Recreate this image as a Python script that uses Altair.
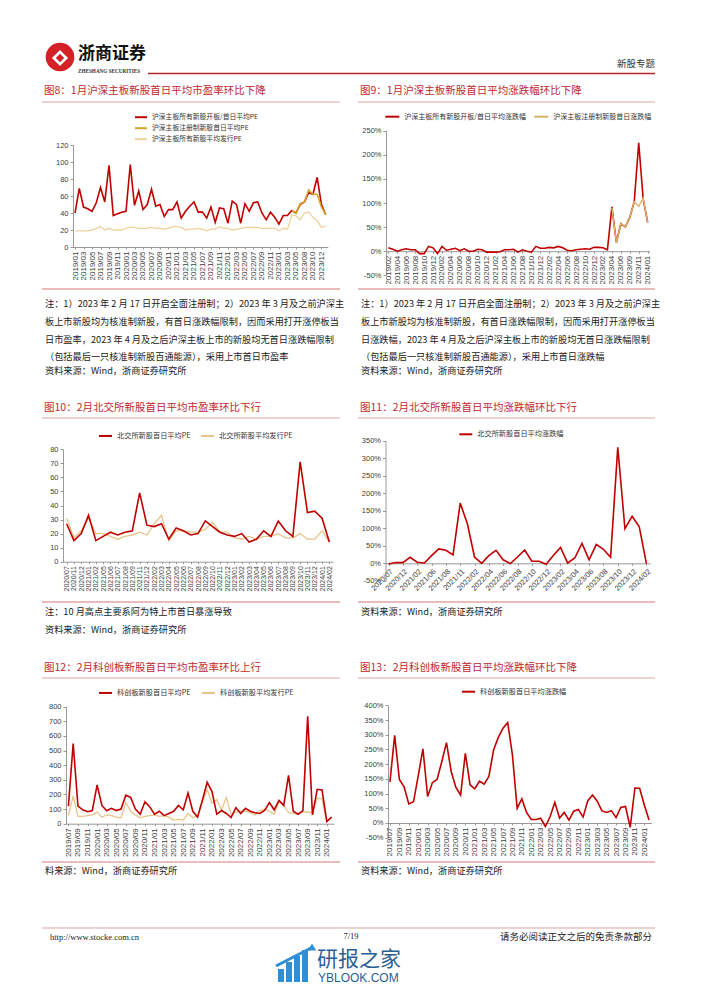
import altair as alt
import pandas as pd

W, H = 686, 975
M = 8


def px(v):
    return v - M


def py(v):
    return v - M


FONT_CJK = "Noto Sans CJK SC"
FONT_NUM = "Liberation Sans"
FONT_SERIF = "Liberation Serif"


def months(start, end, skip=()):
    y, m = map(int, start.split("/"))
    ye, me = map(int, end.split("/"))
    out = []
    while (y, m) <= (ye, me):
        s = f"{y}/{m:02d}"
        if s not in skip:
            out.append(s)
        m += 1
        if m > 12:
            m = 1
            y += 1
    return out


# ---------------- data ----------------
# Fig 8
cats8 = months("2019/01", "2024/01", skip=["2023/07"])
red8 = [40, 69, 47, 45, 42, 52, 70, 53, 96, 37, 39, 41,
        42, 97, 49, 66, 44, 50, 68, 48, 50, 36, 44, 44,
        53, 34, 42, 48, 53, 41, 41, 34, 47, 29, 46, 45,
        28, 54, 50, 28, 51, 42, 52, 53, 40, 32, 41, 35,
        27, 37, 37, 43, 40, 50, 53, 64, 62, 82, 50,
        38]
gold8 = [None] * 51 + [43, 40, 51, 53, 67, 62, 62, 47, 38]
tan8 = [19, 19, 19, 19, 20, 22, 24, 20, 22, 20, 20, 20,
        22, 23, 23, 22, 22, 22, 23, 22, 22, 21, 22, 24,
        24, 23, 20, 21, 21, 22, 21, 19, 21, 21, 24, 22,
        22, 20, 21, 22, 23, 23, 23, 23, 22, 22, 22, 22,
        19, 22, 21, 37, 37, 32, 40, 41, 35, 31, 23,
        25]
names8 = ["沪深主板所有新股开板/首日平均PE", "沪深主板注册制新股首日平均PE", "沪深主板所有新股平均发行PE"]

# Fig 9
cats9 = months("2019/02", "2024/01", skip=["2023/07"])
red9 = [7, 4, 0, 3, 5, 3, 3, -5, -5, 10, 7,
        -5, 10, 2, 4, 6, 1, 5, 0, 0, 4, 3, -2,
        -2, -2, -1, 3, 3, 4, -2, 3, 0, -2, 10, 6,
        6, 8, 7, 10, 7, 2, 1, 3, 4, 5, 4, 8,
        8, 7, 3, 92, 18, 57, 50, 70, 103, 225, 108,
        60]
gold9 = [None] * 50 + [90, 18, 57, 50, 70, 103, 93, 110, 60]
names9 = ["沪深主板所有新股开板/首日平均涨跌幅", "沪深主板注册制新股首日涨跌幅"]

# Fig 10 / 11
cats10 = ["2020/07", "2020/11", "2020/12", "2021/01", "2021/02", "2021/05",
          "2021/06", "2021/07", "2021/08", "2021/09", "2021/11", "2021/12"] + months("2022/02", "2024/02")
red10 = [27, 15, 20, 33, 15, 18, 21, 19, 21, 22, 49, 26, 25, 27, 16, 24, 22, 19, 20,
         29, 25, 21, 19, 18, 20, 14, 16, 22, 18, 29, 22, 18, 71, 35, 36, 31, 14]
tan10 = [31, 17, 22, 31, 20, 20, 18, 16, 18, 19, 21, 19, 27, 33, 15, 22, 22, 21, 21,
         23, 28, 21, 21, 17, 16, 18, 16, 18, 18, 20, 17, 17, 20, 16, 16, 22, 14]
names10 = ["北交所新股首日平均PE", "北交所新股平均发行PE"]
red11 = [-2, 2, 2, 17, 3, 1, 22, 41, 37, 24, 172, 113, 18, 0, 22, 37, 10, -1, 18,
         38, 6, 6, -3, 22, 45, 1, 15, 57, 10, 54, 40, 17, 331, 99, 134, 104, -1]
names11 = ["北交所新股首日平均涨跌幅"]

# Fig 12 / 13
cats12 = months("2019/07", "2024/02")
red12 = [120, 548, 120, 95, 82, 90, 265, 125, 88, 105, 90, 100, 195, 180, 100, 65,
         150, 115, 65, 85, 55, 70, 85, 125, 95, 210, 85, 45, 160, 283, 220, 65,
         90, 70, 42, 110, 70, 105, 85, 75, 70, 90, 145, 95, 160, 125, 330, 85,
         65, 90, 735, 60, 235, 230, 15, 45]
tan12 = [55, 190, 50, 50, 55, 60, 80, 45, 60, 55, 45, 40, 145, 85, 60, 40,
         50, 55, 60, 50, 55, 45, 25, 30, 25, 70, 40, 55, 150, 235, 140, 165,
         95, 180, 60, 80, 85, 85, 75, 60, 90, 100, 85, 65, 150, 125, 75, 70,
         65, 80, 80, 75, 175, 170, 10, 45]
names12 = ["科创板新股首日平均PE", "科创板新股平均发行PE"]
red13 = [140, 298, 148, 123, 65, 72, 160, 252, 90, 137, 148, 208, 273, 175, 121, 95,
         237, 130, 116, 142, 132, 158, 248, 291, 322, 341, 231, 50, 82, 36, 12, 12,
         16, -12, 22, 70, 17, 36, 10, 40, 46, 20, 76, 95, 74, 41, 36, 42,
         18, 53, 56, -15, 119, 118, 61, 10]
names13 = ["科创板新股首日平均涨跌幅"]

# ---------------- styles ----------------
RED = "#C00000"
GOLD8 = "#D2A52A"
TAN8 = "#EDD29E"
GOLD9 = "#D9B468"
TAN = "#E6C48A"
TITLE_C = "#C0282E"
PINK = "#E3A4A4"
AX = "#808080"
LAB = "#404040"


def legend(lx, ly, direction="horizontal", columns=2, size=196, rowpad=0, colpad=12, fs=7.2):
    return dict(orient="none", legendX=px(lx), legendY=py(ly), direction=direction, columns=columns,
                title=None, symbolType="stroke", symbolSize=size, symbolStrokeWidth=2,
                labelFont=FONT_CJK, labelFontSize=fs, labelColor="#333333", labelOffset=4,
                rowPadding=rowpad, columnPadding=colpad, padding=0, labelLimit=300)


def panel(cats, series, names, colors, widths, order, xr, ydom, yr, yvals, pct,
          x_axis_y, y_axis_x, xlab, xangle, xsize, leg):
    layers = []
    for i in order:
        df = pd.DataFrame({"cat": cats, "val": series[i]}).dropna()
        df["series"] = names[i]
        xaxis = alt.Axis(orient="bottom", offset=py(x_axis_y) - H, values=xlab, labelAngle=xangle,
                         labelFontSize=xsize, labelFont=FONT_NUM, labelColor=LAB, labelPadding=2,
                         labelOverlap=False, tickSize=2, tickColor=AX, tickWidth=0.8,
                         domainColor=AX, domainWidth=0.8, grid=False, title=None)
        yargs = dict(orient="left", offset=-px(y_axis_x), values=yvals, labelFontSize=7.5,
                     labelFont=FONT_NUM, labelColor=LAB, labelPadding=2, tickSize=3, tickColor=AX,
                     tickWidth=0.8, domainColor=AX, domainWidth=0.8, grid=False, title=None)
        if pct:
            yargs["labelExpr"] = "datum.value + '%'"
        layers.append(
            alt.Chart(df).mark_line(strokeWidth=widths[i]).encode(
                x=alt.X("cat:O", scale=alt.Scale(domain=cats, range=[px(xr[0]), px(xr[1])], padding=0.5),
                        axis=xaxis),
                y=alt.Y("val:Q", scale=alt.Scale(domain=ydom, range=[py(yr[0]), py(yr[1])], nice=False,
                                                 zero=False), axis=alt.Axis(**yargs)),
                color=alt.Color("series:N", scale=alt.Scale(domain=names, range=colors),
                                legend=alt.Legend(**leg)),
            )
        )
    return alt.layer(*layers)


def txt(s, x, y, size, color="#222222", font=FONT_CJK, align="left", weight="normal"):
    return alt.Chart(pd.DataFrame({"t": [s]})).mark_text(
        align=align, baseline="middle", fontSize=size, font=font, color=color, fontWeight=weight
    ).encode(x=alt.value(px(x)), y=alt.value(py(y)), text="t:N")


def hline(x1, x2, y, color, w=1.0):
    return alt.Chart(pd.DataFrame({"a": [0]})).mark_rule(color=color, strokeWidth=w).encode(
        x=alt.value(px(x1)), x2=alt.value(px(x2)), y=alt.value(py(y)))


def seg(x1, y1, x2, y2, color, w):
    return alt.Chart(pd.DataFrame({"a": [0]})).mark_rule(color=color, strokeWidth=w).encode(
        x=alt.value(px(x1)), x2=alt.value(px(x2)), y=alt.value(py(y1)), y2=alt.value(py(y2)))


def dot(x, y, size, color, shape="circle"):
    return alt.Chart(pd.DataFrame({"a": [0]})).mark_point(
        shape=shape, filled=True, color=color, size=size, opacity=1).encode(
        x=alt.value(px(x)), y=alt.value(py(y)))


items = []

# ---------------- header ----------------
items += [
    dot(60, 57, 820, "#D42027"),
    dot(60, 58, 260, "white", "diamond"),
    dot(60, 58, 70, "#D42027", "diamond"),
    txt("浙商证券", 78, 54, 17, "#111111", weight="bold"),
    txt("ZHESHANG SECURITIES", 78, 70.5, 5.2, "#333333", font=FONT_SERIF, weight="bold"),
    hline(148, 655, 73.5, "#B3262C", 1.5),
    txt("新股专题", 655, 63.5, 9.5, "#333333", align="right"),
]

# ---------------- titles ----------------
titles = [
    ("图8：1月沪深主板新股首日平均市盈率环比下降", 44, 91),
    ("图9：1月沪深主板新股首日平均涨跌幅环比下降", 360, 91),
    ("图10：2月北交所新股首日平均市盈率环比下行", 44, 407.5),
    ("图11：2月北交所新股首日平均涨跌幅环比下行", 360, 407.5),
    ("图12：2月科创板新股首日平均市盈率环比上行", 44, 667.5),
    ("图13：2月科创板新股首日平均涨跌幅环比下降", 360, 667.5),
]
for s, x, y in titles:
    items.append(txt(s, x, y, 10.5, TITLE_C))
for y in (102, 418, 678):
    items += [hline(42, 340, y, PINK, 1), hline(358, 655, y, PINK, 1)]
for y in (289, 602, 862):
    items += [hline(42, 340, y, PINK, 1.6), hline(358, 655, y, PINK, 1.6)]

# ---------------- notes ----------------
left_notes = [
    "注：1）2023 年 2 月 17 日开启全面注册制；2）2023 年 3 月及之前沪深主",
    "板上市新股均为核准制新股，有首日涨跌幅限制，因而采用打开涨停板当",
    "日市盈率，2023 年 4 月及之后沪深主板上市的新股均无首日涨跌幅限制",
    "（包括最后一只核准制新股百通能源），采用上市首日市盈率",
]
right_notes = [
    "注：1）2023 年 2 月 17 日开启全面注册制；2）2023 年 3 月及之前沪深主",
    "板上市新股均为核准制新股，有首日涨跌幅限制，因而采用打开涨停板当",
    "日涨跌幅，2023 年 4 月及之后沪深主板上市的新股均无首日涨跌幅限制",
    "（包括最后一只核准制新股百通能源），采用上市首日涨跌幅",
]
for i, (a, b) in enumerate(zip(left_notes, right_notes)):
    yy = [304, 322, 339.5, 356.5][i]
    items += [txt(a, 45, yy, 9.2), txt(b, 361, yy, 9.2)]
SRC = "资料来源：Wind，浙商证券研究所"
items += [
    txt(SRC, 45, 371, 9.2), txt(SRC, 361, 371, 9.2),
    txt("注：10 月高点主要系阿为特上市首日暴涨导致", 45, 612, 9.2),
    txt(SRC, 45, 630, 9.2), txt(SRC, 361, 612, 9.2),
    txt("料来源：Wind，浙商证券研究所", 45, 871, 9.2), txt(SRC, 361, 871, 9.2),
]

# ---------------- footer ----------------
items += [
    hline(42, 655, 928, "#D9A3A3", 1),
    txt("http://www.stocke.com.cn", 50, 936.5, 8.5, "#222222", font=FONT_SERIF),
    txt("7/19", 351, 935.5, 8.5, "#222222", font=FONT_SERIF, align="center"),
    txt("请务必阅读正文之后的免责条款部分", 652, 936.5, 9.5, "#222222", align="right"),
    # watermark
    seg(281, 982, 281, 969, "#2E8FD6", 6),
    seg(289, 982, 289, 962, "#2E8FD6", 6),
    seg(297, 982, 297, 956, "#2E8FD6", 6),
    seg(305, 982, 305, 950, "#2E8FD6", 6),
    seg(276, 966, 311, 948, "#2E8FD6", 3),
    dot(312, 947, 70, "#2E8FD6", "triangle-up"),
    txt("研报之家", 317, 959.5, 21, "#2B5F94"),
    txt("YBLOOK.COM", 318, 977.5, 12, "#2B5F94", font=FONT_NUM),
]

# ---------------- panels ----------------
items.append(panel(
    cats8, [red8, gold8, tan8], names8, [RED, GOLD8, TAN8], [1.6, 1.6, 1.3], [0, 2, 1],
    xr=(72.9, 327.8), ydom=[0, 120], yr=(247, 145), yvals=list(range(0, 121, 20)), pct=False,
    x_axis_y=247, y_axis_x=73, xlab=cats8[0::2], xangle=-90, xsize=8,
    leg=legend(134, 110.2, direction="vertical", columns=1, size=144, rowpad=-1, fs=6.8),
))
items.append(panel(
    cats9, [red9, gold9], names9, [RED, GOLD9], [1.6, 1.4], [0, 1],
    xr=(386.1, 649.9), ydom=[-50, 250], yr=(275.3, 130.7), yvals=list(range(-50, 251, 50)), pct=True,
    x_axis_y=251.2, y_axis_x=386, xlab=cats9[0::2], xangle=-90, xsize=8,
    leg=legend(384.3, 108.7, size=196, colpad=4, fs=7),
))
items.append(panel(
    cats10, [red10, tan10], names10, [RED, TAN], [1.6, 1.3], [1, 0],
    xr=(63, 333), ydom=[0, 80], yr=(561.7, 449.3), yvals=list(range(0, 81, 10)), pct=False,
    x_axis_y=561.7, y_axis_x=63, xlab=cats10, xangle=-90, xsize=7,
    leg=legend(98, 428.2, size=169, colpad=6),
))
items.append(panel(
    cats10, [red11], names11, [RED], [1.6], [0],
    xr=(385, 650), ydom=[-50, 350], yr=(580.8, 440.7), yvals=list(range(-50, 351, 50)), pct=True,
    x_axis_y=563.3, y_axis_x=385.5, xlab=cats10[0::2], xangle=-45, xsize=7.5,
    leg=legend(458.3, 426.8, columns=1, size=169),
))
items.append(panel(
    cats12, [red12, tan12], names12, [RED, TAN], [1.6, 1.3], [1, 0],
    xr=(66, 334), ydom=[0, 800], yr=(823.7, 706.7), yvals=list(range(0, 801, 100)), pct=False,
    x_axis_y=823.7, y_axis_x=66, xlab=cats12[0::2], xangle=-90, xsize=8,
    leg=legend(98, 685.2, size=169, colpad=7),
))
items.append(panel(
    cats12, [red13], names13, [RED], [1.6], [0],
    xr=(387.6, 651.4), ydom=[-50, 400], yr=(837.7, 705.3), yvals=list(range(-50, 401, 50)), pct=True,
    x_axis_y=823, y_axis_x=388, xlab=cats12[0::2], xangle=-90, xsize=8,
    leg=legend(461, 684.2, columns=1, size=169),
))

chart = (
    alt.layer(*items)
    .resolve_scale(x="independent", y="independent", color="independent")
    .resolve_axis(x="independent", y="independent")
    .resolve_legend(color="independent")
    .properties(width=W, height=H, padding=0, autosize=alt.AutoSizeParams(type="none"),
                background="white")
    .configure_view(stroke=None)
)

chart.save("out.html", embed_options={"renderer": "svg", "actions": False})
